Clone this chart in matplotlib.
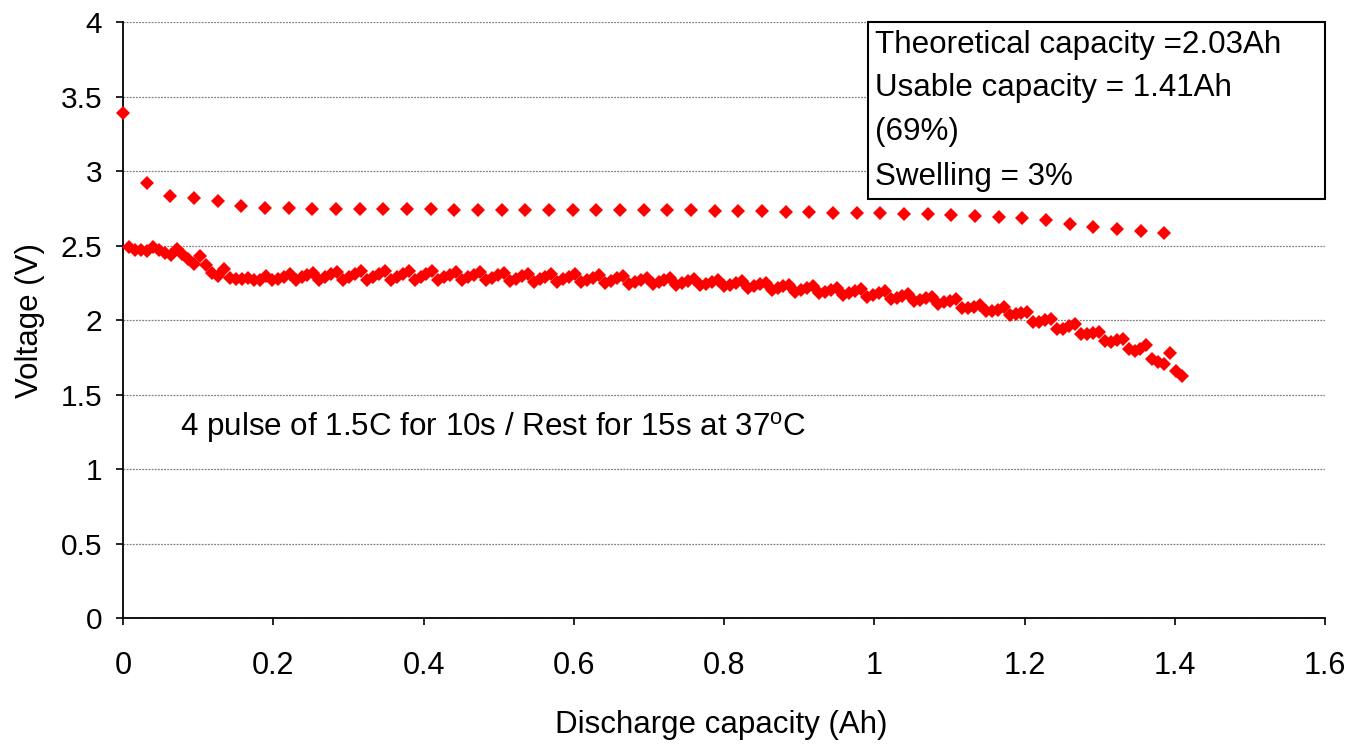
"""
plot.py
Pulse discharge curve (4 x 1.5C pulses / rest at 37 C) -> out.png
"""
import matplotlib
matplotlib.use("Agg")
import matplotlib.pyplot as plt
from matplotlib.patches import Rectangle
from matplotlib.ticker import FuncFormatter, MultipleLocator

plt.rcParams["font.family"] = ["Liberation Sans", "DejaVu Sans"]
plt.rcParams["mathtext.fontset"] = "custom"
plt.rcParams["mathtext.rm"] = "Liberation Sans"

# rest (open circuit) voltage after each group of 4 pulses
rest_cap = [0, 0.0315, 0.063, 0.0945, 0.126, 0.1575, 0.189, 0.2205, 0.252,
            0.2835, 0.315, 0.3465, 0.378, 0.4095, 0.441, 0.4725, 0.504, 0.5355,
            0.567, 0.5985, 0.63, 0.6615, 0.693, 0.7245, 0.756, 0.7875, 0.819,
            0.8505, 0.882, 0.9135, 0.945, 0.9765, 1.008, 1.0395, 1.071, 1.1025,
            1.134, 1.1655, 1.197, 1.2285, 1.26, 1.2915, 1.323, 1.3545, 1.386]
rest_v = [3.387, 2.917, 2.834, 2.816, 2.801, 2.765, 2.754, 2.749, 2.747,
          2.747, 2.747, 2.745, 2.745, 2.743, 2.741, 2.741, 2.741, 2.741,
          2.741, 2.741, 2.739, 2.739, 2.739, 2.739, 2.736, 2.734, 2.732,
          2.732, 2.727, 2.727, 2.721, 2.721, 2.721, 2.714, 2.709, 2.705,
          2.701, 2.694, 2.687, 2.671, 2.642, 2.622, 2.614, 2.600, 2.587]

# pulse voltages, one row per group of 4 pulses
pulse_cap = [
    0.0079, 0.0158, 0.0238, 0.0317,
    0.0396, 0.0475, 0.0554, 0.0634,
    0.0713, 0.0792, 0.0871, 0.0950,
    0.1030, 0.1109, 0.1188, 0.1267,
    0.1346, 0.1426, 0.1505, 0.1584,
    0.1663, 0.1742, 0.1822, 0.1901,
    0.1980, 0.2059, 0.2138, 0.2218,
    0.2297, 0.2376, 0.2455, 0.2534,
    0.2614, 0.2693, 0.2772, 0.2851,
    0.2930, 0.3010, 0.3089, 0.3168,
    0.3247, 0.3326, 0.3406, 0.3485,
    0.3564, 0.3643, 0.3722, 0.3802,
    0.3881, 0.3960, 0.4039, 0.4118,
    0.4198, 0.4277, 0.4356, 0.4435,
    0.4514, 0.4594, 0.4673, 0.4752,
    0.4831, 0.4910, 0.4990, 0.5069,
    0.5148, 0.5227, 0.5306, 0.5386,
    0.5465, 0.5544, 0.5623, 0.5702,
    0.5782, 0.5861, 0.5940, 0.6019,
    0.6098, 0.6178, 0.6257, 0.6336,
    0.6415, 0.6494, 0.6574, 0.6653,
    0.6732, 0.6811, 0.6890, 0.6970,
    0.7049, 0.7128, 0.7207, 0.7286,
    0.7366, 0.7445, 0.7524, 0.7603,
    0.7682, 0.7762, 0.7841, 0.7920,
    0.7999, 0.8078, 0.8158, 0.8237,
    0.8316, 0.8395, 0.8474, 0.8554,
    0.8633, 0.8712, 0.8791, 0.8870,
    0.8950, 0.9029, 0.9108, 0.9187,
    0.9266, 0.9346, 0.9425, 0.9504,
    0.9583, 0.9662, 0.9742, 0.9821,
    0.9900, 0.9979, 1.0058, 1.0138,
    1.0217, 1.0296, 1.0375, 1.0454,
    1.0534, 1.0613, 1.0692, 1.0771,
    1.0850, 1.0930, 1.1009, 1.1088,
    1.1167, 1.1246, 1.1326, 1.1405,
    1.1484, 1.1563, 1.1642, 1.1722,
    1.1801, 1.1880, 1.1959, 1.2038,
    1.2118, 1.2197, 1.2276, 1.2355,
    1.2434, 1.2514, 1.2593, 1.2672,
    1.2751, 1.2830, 1.2910, 1.2989,
    1.3068, 1.3147, 1.3226, 1.3306,
    1.3385, 1.3464, 1.3543, 1.3622,
    1.3702, 1.3781, 1.3860, 1.3939,
    1.4018, 1.4098,
]
pulse_v = [
    2.487, 2.471, 2.471, 2.465,
    2.493, 2.471, 2.453, 2.433,
    2.478, 2.442, 2.411, 2.375,
    2.427, 2.366, 2.315, 2.293,
    2.342, 2.281, 2.275, 2.275,
    2.281, 2.266, 2.271, 2.293,
    2.266, 2.275, 2.288, 2.311,
    2.271, 2.287, 2.302, 2.318,
    2.270, 2.288, 2.307, 2.325,
    2.270, 2.289, 2.309, 2.328,
    2.270, 2.290, 2.310, 2.330,
    2.268, 2.288, 2.308, 2.328,
    2.267, 2.287, 2.307, 2.327,
    2.266, 2.286, 2.305, 2.325,
    2.268, 2.286, 2.304, 2.322,
    2.266, 2.283, 2.300, 2.317,
    2.262, 2.278, 2.295, 2.311,
    2.258, 2.274, 2.290, 2.306,
    2.256, 2.273, 2.289, 2.306,
    2.252, 2.268, 2.283, 2.299,
    2.248, 2.264, 2.279, 2.295,
    2.244, 2.258, 2.271, 2.285,
    2.242, 2.255, 2.268, 2.281,
    2.238, 2.250, 2.261, 2.273,
    2.232, 2.243, 2.255, 2.266,
    2.226, 2.238, 2.249, 2.261,
    2.218, 2.229, 2.239, 2.250,
    2.200, 2.213, 2.225, 2.238,
    2.190, 2.202, 2.214, 2.226,
    2.178, 2.190, 2.201, 2.213,
    2.168, 2.181, 2.195, 2.208,
    2.155, 2.168, 2.182, 2.195,
    2.140, 2.151, 2.163, 2.174,
    2.126, 2.136, 2.146, 2.156,
    2.108, 2.118, 2.128, 2.138,
    2.080, 2.078, 2.090, 2.104,
    2.060, 2.058, 2.070, 2.084,
    2.035, 2.038, 2.046, 2.052,
    1.987, 1.987, 2.003, 2.010,
    1.943, 1.943, 1.958, 1.970,
    1.907, 1.903, 1.914, 1.920,
    1.858, 1.854, 1.863, 1.874,
    1.803, 1.791, 1.803, 1.832,
    1.736, 1.718, 1.707, 1.780,
    1.658, 1.624,
]

info_lines = ["Theoretical capacity =2.03Ah",
              "Usable capacity = 1.41Ah",
              "(69%)",
              "Swelling = 3%"]
note = "4 pulse of 1.5C for 10s / Rest for 15s at 37$^{\\mathrm{o}}$C"


def main():
    fig = plt.figure(figsize=(13.56, 7.49), dpi=100)
    ax = fig.add_axes([0.0907, 0.1749, 0.8865, 0.7957])

    red = "#FF0000"
    ax.plot(pulse_cap, pulse_v, linestyle="none", marker="D", markersize=7,
            color=red, markeredgewidth=0, clip_on=False, zorder=3)
    ax.plot(rest_cap, rest_v, linestyle="none", marker="D", markersize=7,
            color=red, markeredgewidth=0, clip_on=False, zorder=3)

    ax.set_xlim(0, 1.6)
    ax.set_ylim(0, 4)
    ax.xaxis.set_major_locator(MultipleLocator(0.2))
    ax.yaxis.set_major_locator(MultipleLocator(0.5))
    fmt = FuncFormatter(lambda v, p: "%g" % round(v, 2))
    ax.xaxis.set_major_formatter(fmt)
    ax.yaxis.set_major_formatter(fmt)

    ax.yaxis.grid(True, linestyle=(0, (1.5, 1)), color="#808080", linewidth=0.9)
    ax.set_axisbelow(True)

    for s in ["top", "right"]:
        ax.spines[s].set_visible(False)
    for s in ["left", "bottom"]:
        ax.spines[s].set_color("black")
        ax.spines[s].set_linewidth(1.3)

    ax.tick_params(axis="x", direction="out", length=5, width=1.2,
                   labelsize=22, pad=19)
    ax.tick_params(axis="y", direction="out", length=5, width=1.2,
                   labelsize=21.5, pad=10)

    ax.set_xlabel("Discharge capacity (Ah)", fontsize=22.5, va="center")
    ax.xaxis.set_label_coords(0.498, -0.18)
    ax.set_ylabel("Voltage (V)", fontsize=22.5, va="center")
    ax.yaxis.set_label_coords(-0.077, 0.5)

    # info box, top right
    ax.add_patch(Rectangle((0.6198, 0.703), 0.3802, 0.297, transform=ax.transAxes,
                           facecolor="white", edgecolor="black", linewidth=1.5,
                           clip_on=False, zorder=4))
    for line, yy in zip(info_lines, [0.961, 0.889, 0.815, 0.740]):
        ax.text(0.6256, yy, line, transform=ax.transAxes, fontsize=22.6,
                va="center", ha="left", zorder=5)

    ax.text(0.0474, 0.319, note, transform=ax.transAxes, fontsize=22.6,
            va="center", ha="left")

    fig.savefig("out.png", dpi=100, facecolor="white")


if __name__ == "__main__":
    main()
